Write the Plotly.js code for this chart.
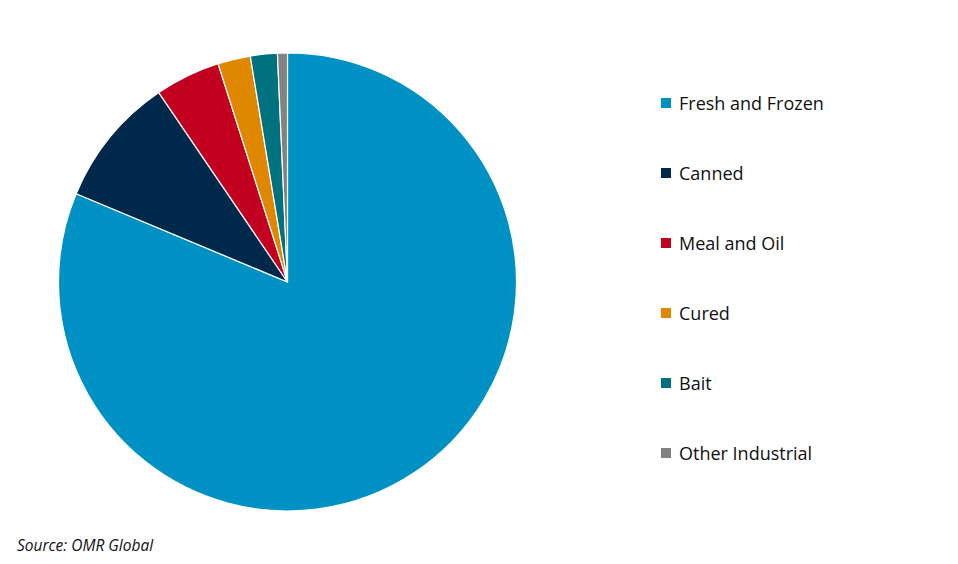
<!DOCTYPE html>
<html>
<head>
<meta charset="utf-8">
<script src="https://cdn.plot.ly/plotly-3.0.1.min.js"></script>
<style>html,body{margin:0;padding:0;background:#fff;}#chart{width:958px;height:564px;}</style>
</head>
<body>
<div id="chart"></div>
<script>
const categories = ["Fresh and Frozen", "Canned", "Meal and Oil", "Cured", "Bait", "Other Industrial"];
const shares = [81.3, 9.2, 4.6, 2.3, 1.9, 0.7];
const colors = ["#0091C4", "#00284A", "#C3001F", "#E08700", "#00727F", "#828282"];
const sourceText = "Source: OMR Global";

const W = 958, H = 564;
const cx = 287.5, cy = 282, r = 229;

const trace = {
  type: "pie",
  labels: categories,
  values: shares,
  sort: false,
  direction: "clockwise",
  rotation: 0,
  marker: { colors: colors, line: { color: "#ffffff", width: 1.2 } },
  textinfo: "none",
  hoverinfo: "label+percent",
  showlegend: false,
  domain: { x: [(cx - r) / W, (cx + r) / W], y: [(H - cy - r) / H, (H - cy + r) / H] }
};

const legX = 666, legY0 = 103, legStep = 70, sq = 10;
const shapes = [], annotations = [];
categories.forEach((c, i) => {
  const y = legY0 + i * legStep;
  shapes.push({
    type: "rect", xref: "paper", yref: "paper",
    x0: (legX - sq / 2) / W, x1: (legX + sq / 2) / W,
    y0: (H - y - sq / 2) / H, y1: (H - y + sq / 2) / H,
    fillcolor: colors[i], line: { width: 0 }
  });
  annotations.push({
    xref: "paper", yref: "paper", x: 677 / W, y: (H - y) / H,
    xanchor: "left", yanchor: "middle", showarrow: false,
    text: c, font: { family: "Open Sans, sans-serif", size: 18, color: "#111111" }
  });
});
annotations.push({
  xref: "paper", yref: "paper", x: 15 / W, y: (H - 545) / H,
  xanchor: "left", yanchor: "middle", showarrow: false,
  text: "<i>" + sourceText + "</i>",
  font: { family: "Open Sans, sans-serif", size: 15.5, color: "#111111" }
});

const layout = {
  width: W, height: H,
  margin: { l: 0, r: 0, t: 0, b: 0 },
  paper_bgcolor: "#ffffff",
  showlegend: false,
  shapes: shapes,
  annotations: annotations
};

Plotly.newPlot("chart", [trace], layout, { displayModeBar: false, staticPlot: true });
</script>
</body>
</html>
